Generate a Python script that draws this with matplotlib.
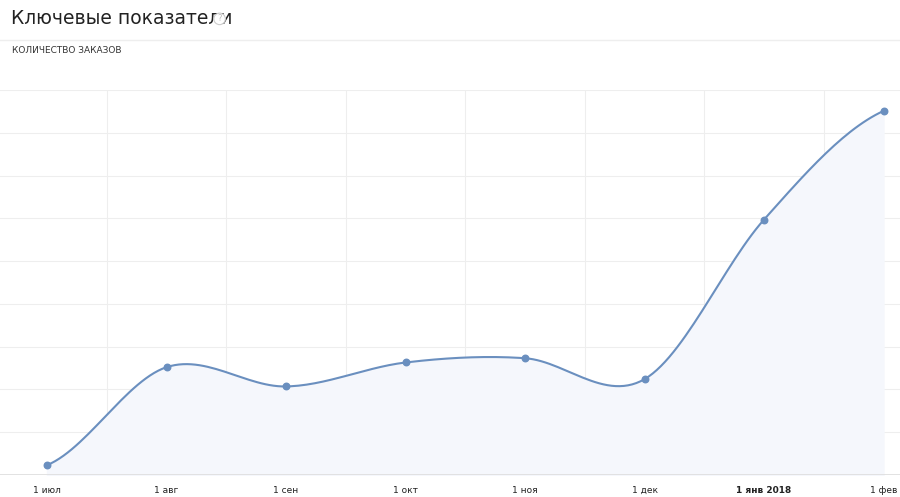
import numpy as np
import matplotlib

matplotlib.use("Agg")
import matplotlib.pyplot as plt

labels = ["1 июл", "1 авг", "1 сен", "1 окт", "1 ноя", "1 дек", "1 янв 2018", "1 фев"]
orders = [0.23, 2.52, 2.07, 2.63, 2.73, 2.24, 5.97, 8.51]

LINE = "#6a8fbf"


def smooth(xs, ys, n=30):
    # catmull-rom spline through the points, just for drawing
    xs = np.asarray(xs, float)
    ys = np.asarray(ys, float)
    px = np.concatenate([[2 * xs[0] - xs[1]], xs, [2 * xs[-1] - xs[-2]]])
    py = np.concatenate([[ys[0]], ys, [ys[-1]]])
    outx, outy = [], []
    t = np.linspace(0, 1, n)
    for i in range(1, len(px) - 2):
        for p, out in ((px, outx), (py, outy)):
            p0, p1, p2, p3 = p[i - 1], p[i], p[i + 1], p[i + 2]
            out.extend(0.5 * (2 * p1 + (-p0 + p2) * t + (2 * p0 - 5 * p1 + 4 * p2 - p3) * t**2
                              + (-p0 + 3 * p1 - 3 * p2 + p3) * t**3))
    return np.array(outx), np.array(outy)


fig = plt.figure(figsize=(9, 4.97), dpi=100)
fig.text(0.012, 0.962, "Ключевые показатели", fontsize=13.5, color="#222222", va="center")
fig.text(0.244, 0.962, "?", fontsize=6, color="#bbbbbb", va="center", ha="center",
         bbox=dict(boxstyle="circle,pad=0.15", fc="white", ec="#cccccc", lw=0.8))
fig.add_artist(plt.Line2D([0, 1], [0.92, 0.92], color="#eeeeee", lw=1))
fig.text(0.013, 0.898, "КОЛИЧЕСТВО ЗАКАЗОВ", fontsize=6.5, color="#333333", va="center")

ax = fig.add_axes([0, 22 / 497, 1, 385 / 497])
x = np.arange(len(orders))
sx, sy = smooth(x, orders)
ax.fill_between(sx, sy, 0, color="#f5f7fc", zorder=1)
ax.plot(sx, sy, color=LINE, lw=1.5, zorder=3)
ax.scatter(x, orders, s=22, color=LINE, zorder=4)

ax.set_xlim(-47 / 119.5, 853 / 119.5)
ax.set_ylim(0, 9)
for yv in range(1, 10):
    ax.axhline(yv, color="#eeeeee", lw=0.8, zorder=0)
for xv in np.arange(0.5, 7, 1):
    ax.axvline(xv, color="#eeeeee", lw=0.8, zorder=0)
ax.axhline(0, color="#dddddd", lw=1.2, zorder=2)
for s in ax.spines.values():
    s.set_visible(False)
ax.set_yticks([])
ax.set_xticks(x)
ax.set_xticklabels(labels, fontsize=6.5, color="#222222")
ax.get_xticklabels()[6].set_fontweight("bold")
ax.tick_params(axis="x", length=0, pad=8)

fig.savefig("out.png", dpi=100)
